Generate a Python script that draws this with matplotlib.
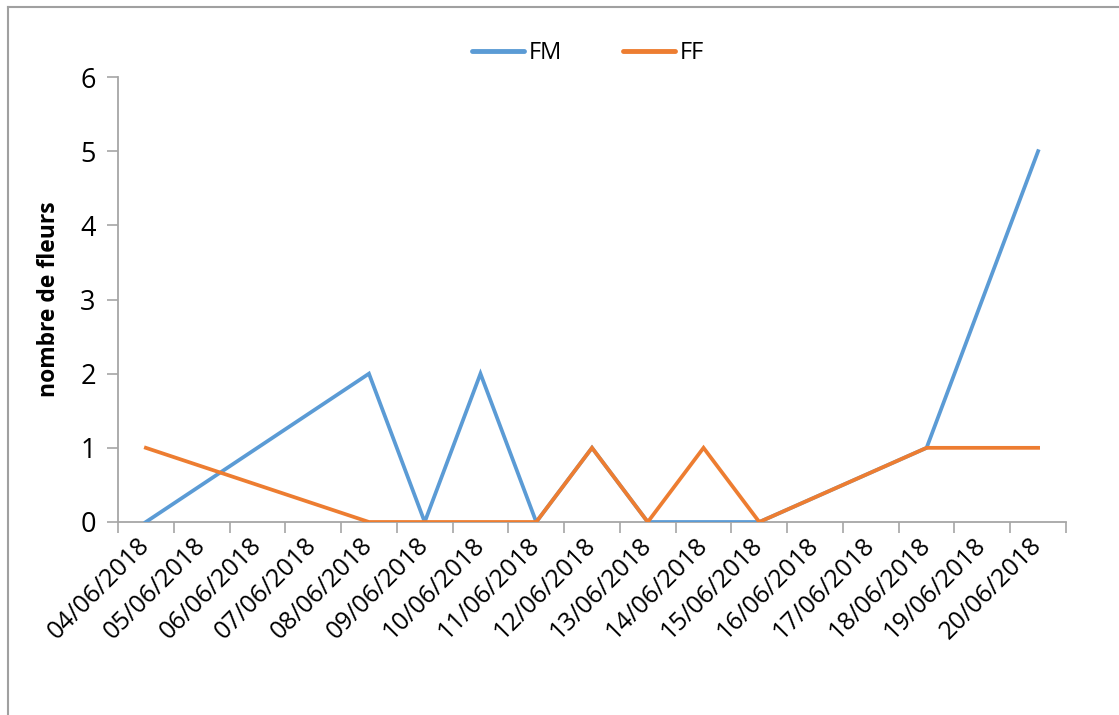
import matplotlib
matplotlib.use("Agg")
import matplotlib.pyplot as plt
from matplotlib.lines import Line2D
import numpy as np

plt.rcParams['font.family'] = ['Open Sans', 'DejaVu Sans']

# categories (date axis)
dates = ["04/06/2018", "05/06/2018", "06/06/2018", "07/06/2018", "08/06/2018",
         "09/06/2018", "10/06/2018", "11/06/2018", "12/06/2018", "13/06/2018",
         "14/06/2018", "15/06/2018", "16/06/2018", "17/06/2018", "18/06/2018",
         "19/06/2018", "20/06/2018"]
# measurement dates and values
obs_dates = ["04/06/2018", "08/06/2018", "09/06/2018", "10/06/2018", "11/06/2018",
             "12/06/2018", "13/06/2018", "14/06/2018", "15/06/2018", "18/06/2018",
             "20/06/2018"]
fm = [0, 2, 0, 2, 0, 1, 0, 0, 0, 1, 5]
ff = [1, 0, 0, 0, 0, 1, 0, 1, 0, 1, 1]
y_ticks = [0, 1, 2, 3, 4, 5, 6]

W, H = 1119, 715
fig = plt.figure(figsize=(W / 100, H / 100), dpi=100)
ax = fig.add_axes([118 / W, 1 - 522 / H, (1066 - 118) / W, (522 - 77) / H])

xpos = [dates.index(d) for d in obs_dates]
blue = "#5B9BD5"
orange = "#ED7D31"
ax.plot(xpos, fm, color=blue, lw=2.7, solid_joinstyle='miter', zorder=3)
ax.plot(xpos, ff, color=orange, lw=2.7, solid_joinstyle='miter', zorder=4)

ax.set_xlim(-0.5, len(dates) - 0.5)
ax.set_ylim(0, 6)
ax.set_yticks(y_ticks)
ax.set_yticklabels([str(v) for v in y_ticks], fontsize=19.5)

# boundaries ticks (major) and labels at category centers (minor)
ax.set_xticks(np.arange(-0.5, len(dates), 1.0))
ax.set_xticklabels([])
ax.set_xticks(np.arange(len(dates)), minor=True)
ax.set_xticklabels(dates, minor=True, rotation=45, ha='right', va='center',
                   rotation_mode='anchor', fontsize=18)
ax.tick_params(axis='x', which='major', direction='out', length=8, color='#A6A6A6', width=1.2)
ax.tick_params(axis='x', which='minor', length=0, pad=14)
ax.tick_params(axis='y', direction='out', length=8, color='#A6A6A6', width=1.2, pad=8)

for s in ['top', 'right']:
    ax.spines[s].set_visible(False)
for s in ['left', 'bottom']:
    ax.spines[s].set_color('#A6A6A6')
    ax.spines[s].set_linewidth(1.3)

ax.set_ylabel("nombre de fleurs", fontsize=16.5, fontweight='bold', labelpad=14)

handles = [Line2D([], [], color=blue, lw=3.5, solid_capstyle='round'),
           Line2D([], [], color=orange, lw=3.5, solid_capstyle='round')]
fig.legend(handles, ["FM", "FF"], loc='center', bbox_to_anchor=(588 / W, 1 - 53 / H),
           ncol=2, frameon=False, fontsize=17, handlelength=2.2, handletextpad=0.2,
           columnspacing=2.6)

# chart-area border (left and top visible)
fig.add_artist(Line2D([7.5 / W, 7.5 / W], [0, 1 - 6.5 / H], transform=fig.transFigure,
                      color='#A0A0A0', lw=1.5))
fig.add_artist(Line2D([7.5 / W, 1], [1 - 6.5 / H, 1 - 6.5 / H], transform=fig.transFigure,
                      color='#A0A0A0', lw=1.5))

fig.savefig("out.png", dpi=100)
